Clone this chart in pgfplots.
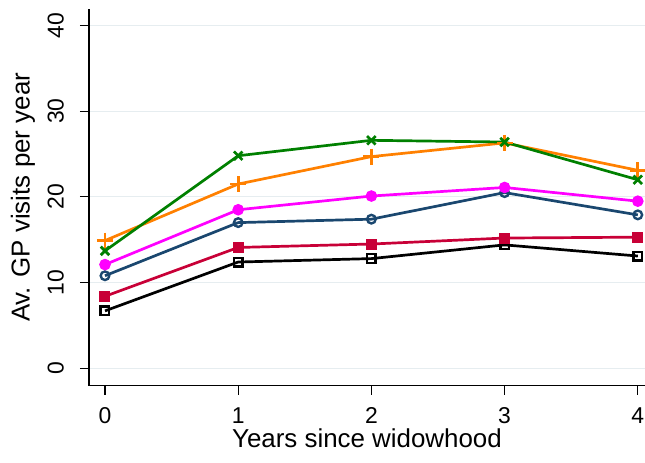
\documentclass[border=0pt]{standalone}
\usepackage{fontspec}
\setmainfont{Liberation Sans}
\usepackage{pgfplots}
\pgfplotsset{compat=1.18}
\definecolor{sblue}{RGB}{26,71,111}
\definecolor{sred}{RGB}{200,0,55}
\definecolor{smag}{RGB}{255,0,255}
\definecolor{sorange}{RGB}{255,128,0}
\definecolor{sgreen}{RGB}{0,128,0}
\definecolor{sgrid}{RGB}{230,237,240}
\begin{document}
\begin{tikzpicture}
\path[use as bounding box] (0,0) rectangle (645bp,463bp);
\begin{axis}[
  at={(89bp,77.3bp)}, anchor=south west,
  scale only axis, width=556bp, height=376.5bp,
  xmin=-0.12, xmax=4.054, ymin=-2.03, ymax=41.9,
  axis lines=left, axis line style={-, line width=1.3bp},
  xtick={0,1,2,3,4}, ytick={0,10,20,30,40},
  tick align=outside, major tick length=9bp,
  tick style={line width=1.2bp, black},
  ymajorgrids, grid style={sgrid, line width=0.8bp},
  /pgf/number format/assume math mode=true,
  tick label style={font=\fontsize{23}{26}\selectfont},
  label style={font=\fontsize{26}{30}\selectfont},
  yticklabel style={rotate=90, anchor=south, inner sep=0pt, yshift=16bp},
  xticklabel style={anchor=north, inner sep=0pt, yshift=-13bp},
  xlabel={Years since widowhood}, ylabel={Av. GP visits per year},
  xlabel style={at={(axis description cs:0.5,-0.165)}, anchor=base, inner sep=0pt},
  ylabel style={at={(axis description cs:-0.119,0.5)}, anchor=center, rotate=0, inner sep=0pt},
  every axis plot/.append style={line width=2.7bp},
  clip=false,
]
\addplot[black, mark=square, mark size=4.3bp, mark options={line width=2.4bp}] coordinates {(0,6.7) (1,12.4) (2,12.8) (3,14.4) (4,13.1)};
\addplot[sred, mark=square*, mark size=5bp, mark options={line width=1bp}] coordinates {(0,8.4) (1,14.1) (2,14.5) (3,15.2) (4,15.3)};
\addplot[sblue, mark=o, mark size=4.3bp, mark options={line width=2.4bp}] coordinates {(0,10.8) (1,17.0) (2,17.4) (3,20.5) (4,17.9)};
\addplot[smag, mark=*, mark size=5.3bp, mark options={line width=1bp}] coordinates {(0,12.1) (1,18.5) (2,20.1) (3,21.1) (4,19.5)};
\addplot[sorange, mark=+, mark size=8bp] coordinates {(0,14.9) (1,21.5) (2,24.7) (3,26.3) (4,23.1)};
\addplot[sgreen, mark=x, mark size=6bp] coordinates {(0,13.7) (1,24.8) (2,26.6) (3,26.4) (4,22.0)};
\end{axis}
\end{tikzpicture}
\end{document}
